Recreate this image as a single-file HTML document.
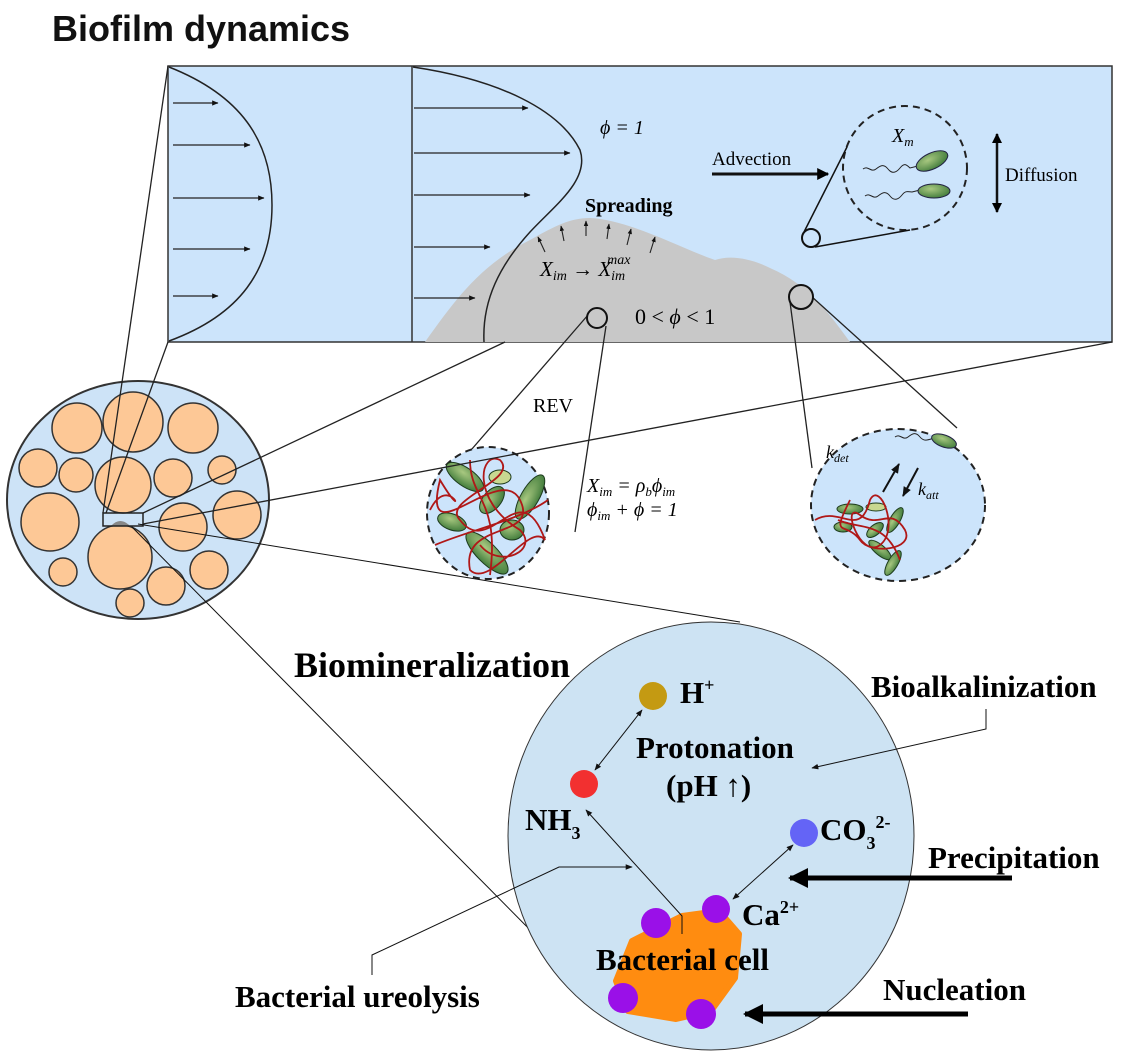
<!DOCTYPE html>
<html><head><meta charset="utf-8"><style>
html,body{margin:0;padding:0;background:#fff;}
svg{display:block;}
.s{font-family:"Liberation Serif",serif;}
.b{font-family:"Liberation Serif",serif;font-weight:bold;}
</style></head><body>
<svg width="1130" height="1053" viewBox="0 0 1130 1053" xmlns="http://www.w3.org/2000/svg">
<defs>
<marker id="a" viewBox="0 0 10 10" refX="9" refY="5" markerWidth="7" markerHeight="7" orient="auto-start-reverse"><path d="M0,1 L10,5 L0,9 z" fill="#111"/></marker>
<marker id="as" viewBox="0 0 10 10" refX="9" refY="5" markerWidth="5" markerHeight="5" orient="auto-start-reverse"><path d="M0,1 L10,5 L0,9 z" fill="#111"/></marker>
<marker id="ab" viewBox="0 0 10 10" refX="9" refY="5" markerWidth="4" markerHeight="4" orient="auto-start-reverse"><path d="M0,0 L10,5 L0,10 z" fill="#000"/></marker>
<radialGradient id="g" cx="40%" cy="35%" r="70%"><stop offset="0" stop-color="#a8c880"/><stop offset="1" stop-color="#3f7a3a"/></radialGradient>
</defs>

<text x="52" y="41" font-family="Liberation Sans, sans-serif" font-weight="bold" font-size="36" fill="#111">Biofilm dynamics</text>

<!-- top panel -->
<rect x="168" y="66" width="944" height="276" fill="#cce4fb" stroke="#333" stroke-width="1.5"/>
<path d="M425,342 C455,300 480,265 530,240 C555,226 570,218 590,218 C630,220 680,248 715,260 C730,255 750,258 770,268 C810,285 830,315 850,342 Z" fill="#c8c8c8"/>
<line x1="412" y1="66" x2="412" y2="342" stroke="#333" stroke-width="1.5"/>
<path d="M169,67 C240,95 272,140 272,205 C272,270 240,315 169,341" fill="none" stroke="#222" stroke-width="1.5"/>
<g stroke="#222" stroke-width="1.3" marker-end="url(#as)">
<line x1="173" y1="103" x2="218" y2="103"/><line x1="173" y1="145" x2="250" y2="145"/>
<line x1="173" y1="198" x2="264" y2="198"/><line x1="173" y1="249" x2="250" y2="249"/>
<line x1="173" y1="296" x2="218" y2="296"/>
<line x1="414" y1="108" x2="528" y2="108"/><line x1="414" y1="153" x2="570" y2="153"/>
<line x1="414" y1="195" x2="530" y2="195"/><line x1="414" y1="247" x2="490" y2="247"/>
<line x1="414" y1="298" x2="475" y2="298"/>
</g>
<path d="M413,67 C500,80 560,110 580,150 C590,180 555,205 530,232 C500,265 482,300 484,342" fill="none" stroke="#222" stroke-width="1.5"/>
<g stroke="#222" stroke-width="1.1" marker-end="url(#as)">
<line x1="545" y1="252" x2="538" y2="237"/><line x1="564" y1="241" x2="561" y2="226"/>
<line x1="586" y1="236" x2="586" y2="221"/><line x1="607" y1="239" x2="609" y2="224"/>
<line x1="627" y1="245" x2="631" y2="229"/><line x1="650" y1="253" x2="655" y2="237"/>
</g>
<text x="600" y="134" class="s" font-size="20" font-style="italic">ϕ = 1</text>
<text x="585" y="212" class="b" font-size="20">Spreading</text>
<text x="540" y="276" class="s" font-size="21" font-style="italic">X<tspan font-size="14" dy="4">im</tspan><tspan dy="-4"> → X</tspan><tspan font-size="14" dy="4">im</tspan><tspan font-size="14" dx="-18" dy="-16">max</tspan></text>
<text x="635" y="324" class="s" font-size="22">0 &lt; <tspan font-style="italic">ϕ</tspan> &lt; 1</text>
<text x="712" y="165" class="s" font-size="19">Advection</text>
<line x1="712" y1="174" x2="828" y2="174" stroke="#111" stroke-width="3" marker-end="url(#ab)"/>
<text x="1005" y="181" class="s" font-size="19">Diffusion</text>
<line x1="997" y1="134" x2="997" y2="212" stroke="#111" stroke-width="2.5" marker-start="url(#ab)" marker-end="url(#ab)"/>
<circle cx="905" cy="168" r="62" fill="none" stroke="#222" stroke-width="2" stroke-dasharray="7,5"/>
<text x="892" y="142" class="s" font-size="20" font-style="italic">X<tspan font-size="13" dy="4">m</tspan></text>
<path d="M863,169 c5,-4 8,4 13,0 s8,-5 12,0 s8,4 12,-1 s6,-4 10,0 l8,-2" fill="none" stroke="#222"/>
<path d="M865,196 c5,-4 8,4 13,0 s8,-5 12,0 s8,4 12,-1 s6,-3 10,-3 l8,-2" fill="none" stroke="#222"/>
<ellipse cx="932" cy="161" rx="17" ry="8" transform="rotate(-25 932 161)" fill="url(#g)" stroke="#224" stroke-width="1"/>
<ellipse cx="934" cy="191" rx="16" ry="7" fill="url(#g)" stroke="#224" stroke-width="1"/>
<circle cx="811" cy="238" r="9" fill="#cce4fb" stroke="#111" stroke-width="2"/>
<line x1="804" y1="232" x2="847" y2="147" stroke="#111" stroke-width="1.5"/>
<line x1="815" y1="247" x2="910" y2="230" stroke="#111" stroke-width="1.5"/>

<!-- connectors top -->
<g stroke="#222" stroke-width="1.3" fill="none">
<line x1="588" y1="315" x2="452" y2="472"/><line x1="606" y1="326" x2="575" y2="532"/>
<line x1="790" y1="302" x2="812" y2="468"/><line x1="811" y1="296" x2="957" y2="428"/>
</g>
<circle cx="597" cy="318" r="10" fill="#c8c8c8" stroke="#111" stroke-width="2"/>
<circle cx="801" cy="297" r="12" fill="#c8c8c8" stroke="#111" stroke-width="2"/>
<text x="533" y="412" class="s" font-size="20">REV</text>

<!-- REV circle -->
<ellipse cx="488" cy="513" rx="61" ry="66" fill="#cce4fb" stroke="#222" stroke-width="2" stroke-dasharray="7,5"/>
<g stroke="#1d3b1d" stroke-width="1">
<ellipse cx="465" cy="477" rx="22" ry="9" transform="rotate(35 465 477)" fill="url(#g)"/>
<ellipse cx="500" cy="477" rx="11" ry="7" fill="#c8d890"/>
<ellipse cx="530" cy="497" rx="25" ry="9" transform="rotate(-60 530 497)" fill="url(#g)"/>
<ellipse cx="492" cy="500" rx="16" ry="9" transform="rotate(-50 492 500)" fill="url(#g)"/>
<ellipse cx="452" cy="522" rx="15" ry="8" transform="rotate(20 452 522)" fill="url(#g)"/>
<ellipse cx="512" cy="530" rx="12" ry="10" fill="url(#g)"/>
<ellipse cx="487" cy="553" rx="28" ry="10" transform="rotate(45 487 553)" fill="url(#g)"/>
</g>
<path d="M430,510 C450,470 470,530 440,480 C420,560 500,460 520,500 C540,540 460,520 470,570 C490,590 530,520 545,540 C520,470 490,560 460,520 C440,500 520,480 500,460 C480,450 470,500 520,530 C540,550 500,570 480,545 M435,545 C470,530 520,520 548,500 M470,460 C470,500 500,500 490,575" fill="none" stroke="#b01818" stroke-width="1.8"/>
<text x="587" y="492" class="s" font-size="20" font-style="italic">X<tspan font-size="13" dy="4">im</tspan><tspan dy="-4"> = ρ</tspan><tspan font-size="13" dy="4">b</tspan><tspan dy="-4">ϕ</tspan><tspan font-size="13" dy="4">im</tspan></text>
<text x="587" y="516" class="s" font-size="20" font-style="italic">ϕ<tspan font-size="13" dy="4">im</tspan><tspan dy="-4"> + ϕ = 1</tspan></text>

<!-- right dashed circle -->
<ellipse cx="898" cy="505" rx="87" ry="76" fill="#cce4fb" stroke="#222" stroke-width="2" stroke-dasharray="7,5"/>
<path d="M895,437 c5,-4 8,4 13,0 s8,-5 12,0 s8,3 14,1" fill="none" stroke="#222"/>
<ellipse cx="944" cy="441" rx="13" ry="6" transform="rotate(20 944 441)" fill="url(#g)" stroke="#224"/>
<text x="826" y="458" class="s" font-size="18" font-style="italic">k<tspan font-size="12" dy="4">det</tspan></text>
<text x="918" y="495" class="s" font-size="18" font-style="italic">k<tspan font-size="12" dy="4">att</tspan></text>
<line x1="883" y1="492" x2="899" y2="464" stroke="#111" stroke-width="2" marker-end="url(#as)"/>
<line x1="918" y1="468" x2="903" y2="496" stroke="#111" stroke-width="2" marker-end="url(#as)"/>
<g stroke="#1d3b1d" stroke-width="1">
<ellipse cx="850" cy="509" rx="13" ry="5" fill="url(#g)"/>
<ellipse cx="876" cy="507" rx="10" ry="4" fill="#c8d890"/>
<ellipse cx="895" cy="520" rx="14" ry="5" transform="rotate(-60 895 520)" fill="url(#g)"/>
<ellipse cx="875" cy="530" rx="10" ry="5" transform="rotate(-40 875 530)" fill="url(#g)"/>
<ellipse cx="880" cy="550" rx="14" ry="5" transform="rotate(40 880 550)" fill="url(#g)"/>
<ellipse cx="893" cy="563" rx="14" ry="5" transform="rotate(-60 893 563)" fill="url(#g)"/>
<ellipse cx="843" cy="527" rx="9" ry="5" fill="url(#g)"/>
</g>
<path d="M815,520 C840,505 860,540 870,500 C880,480 900,530 880,545 C860,560 840,500 860,515 C880,530 890,505 905,530 C915,550 870,555 860,540 C845,520 830,540 850,500 M838,520 C860,530 885,520 900,560" fill="none" stroke="#b01818" stroke-width="1.8"/>

<!-- porous medium -->
<ellipse cx="138" cy="500" rx="131" ry="119" fill="#cde3f7" stroke="#333" stroke-width="2"/>
<g fill="#fdc896" stroke="#333" stroke-width="1.5">
<circle cx="77" cy="428" r="25"/><circle cx="133" cy="422" r="30"/><circle cx="193" cy="428" r="25"/>
<circle cx="38" cy="468" r="19"/><circle cx="76" cy="475" r="17"/><circle cx="123" cy="485" r="28"/>
<circle cx="173" cy="478" r="19"/><circle cx="222" cy="470" r="14"/><circle cx="50" cy="522" r="29"/>
<circle cx="183" cy="527" r="24"/><circle cx="237" cy="515" r="24"/><circle cx="120" cy="557" r="32"/>
<circle cx="63" cy="572" r="14"/><circle cx="166" cy="586" r="19"/><circle cx="209" cy="570" r="19"/>
<circle cx="130" cy="603" r="14"/>
</g>
<path d="M111,526 Q120,516 130,526 Z" fill="#888"/>
<rect x="103" y="513" width="40" height="13" fill="none" stroke="#222" stroke-width="1.5"/>
<g stroke="#222" stroke-width="1.3">
<line x1="168" y1="66" x2="103" y2="513"/><line x1="168" y1="342" x2="106" y2="513"/>
<line x1="505" y1="342" x2="143" y2="513"/><line x1="1112" y1="342" x2="143" y2="524"/>
</g>
<g stroke="#111" stroke-width="1">
<line x1="138" y1="524" x2="740" y2="622"/>
<line x1="132" y1="527" x2="545" y2="945"/>
</g>

<!-- biomineralization -->
<text x="294" y="677" class="b" font-size="36">Biomineralization</text>
<ellipse cx="711" cy="836" rx="203" ry="214" fill="#cde3f3" stroke="#333" stroke-width="1"/>
<path d="M682,916 L719,911 L739,934 L735,978 L711,1011 L676,1019 L628,1011 L616,981 L632,941 Z" fill="#ff8c10" stroke="#ff8c10" stroke-linejoin="round" stroke-width="6"/>
<circle cx="653" cy="696" r="14" fill="#c49a12"/>
<circle cx="584" cy="784" r="14" fill="#f23030"/>
<circle cx="804" cy="833" r="14" fill="#6464f6"/>
<g fill="#9a10e8"><circle cx="656" cy="923" r="15"/><circle cx="716" cy="909" r="14"/><circle cx="623" cy="998" r="15"/><circle cx="701" cy="1014" r="15"/></g>
<g stroke="#111" stroke-width="1" fill="none">
<line x1="642" y1="710" x2="595" y2="770" marker-start="url(#a)" marker-end="url(#a)"/>
<line x1="793" y1="845" x2="733" y2="899" marker-start="url(#a)" marker-end="url(#a)"/>
<polyline points="682,934 682,916 586,810" marker-end="url(#a)"/>
<polyline points="372,975 372,955 559,867 632,867" marker-end="url(#a)"/>
<polyline points="986,709 986,729 812,768" marker-end="url(#a)"/>
</g>
<line x1="1012" y1="878" x2="790" y2="878" stroke="#000" stroke-width="5" marker-end="url(#ab)"/>
<line x1="968" y1="1014" x2="745" y2="1014" stroke="#000" stroke-width="5" marker-end="url(#ab)"/>
<text x="680" y="703" class="b" font-size="31">H<tspan font-size="18" dy="-12">+</tspan></text>
<text x="636" y="758" class="b" font-size="31">Protonation</text>
<text x="666" y="796" class="b" font-size="31">(pH ↑)</text>
<text x="525" y="830" class="b" font-size="31">NH<tspan font-size="18" dy="9">3</tspan></text>
<text x="820" y="840" class="b" font-size="31">CO<tspan font-size="18" dy="9">3</tspan><tspan font-size="18" dy="-21">2-</tspan></text>
<text x="742" y="925" class="b" font-size="31">Ca<tspan font-size="18" dy="-12">2+</tspan></text>
<text x="596" y="970" class="b" font-size="31">Bacterial cell</text>
<text x="871" y="697" class="b" font-size="31">Bioalkalinization</text>
<text x="928" y="868" class="b" font-size="31">Precipitation</text>
<text x="883" y="1000" class="b" font-size="31">Nucleation</text>
<text x="235" y="1007" class="b" font-size="31">Bacterial ureolysis</text>
</svg>
</body></html>
